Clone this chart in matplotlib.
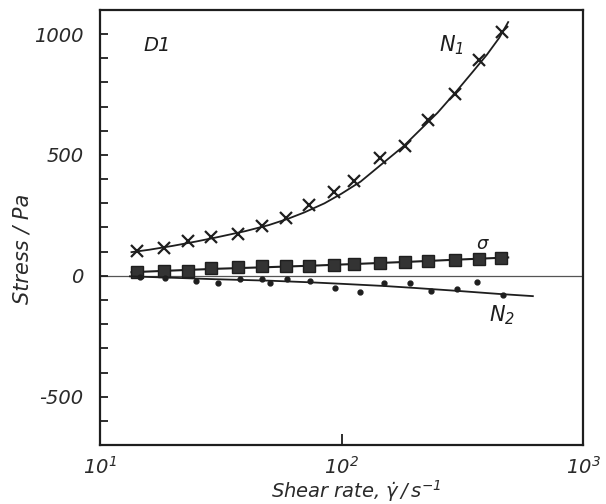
import matplotlib
matplotlib.use("Agg")
import matplotlib.pyplot as plt
from matplotlib.ticker import MultipleLocator, NullLocator

plt.rcParams['font.family'] = ['DejaVu Sans']
plt.rcParams['mathtext.fontset'] = 'custom'
plt.rcParams['mathtext.rm'] = 'DejaVu Sans:italic'
plt.rcParams['mathtext.it'] = 'DejaVu Sans:italic'

# N1 data points (crosses)
n1_rate = [14.2, 18.4, 23.1, 28.9, 37.1, 46.8, 58.8, 73.3, 93.2, 113, 145, 183, 229, 296, 372, 464]
n1_stress = [101, 115, 143, 161, 174, 208, 240, 292, 347, 393, 486, 539, 643, 754, 893, 1011]
# N1 fitted curve
n1_fit_rate = [13.5, 16, 20, 25, 30, 40, 50, 60, 70, 85, 100, 120, 150, 180, 200, 250, 300, 350, 400, 450, 490]
n1_fit_stress = [98, 108, 124, 142, 158, 185, 210, 236, 262, 300, 340, 390, 470, 535, 580, 675, 765, 845, 915, 985, 1050]

# shear stress sigma (squares)
sig_rate = [14.2, 18.4, 23.1, 28.9, 37.1, 46.8, 58.8, 73.3, 93.2, 113, 145, 183, 229, 296, 372, 456]
sig_stress = [14, 21, 21, 32, 35, 39, 39, 42, 44, 49, 53, 58, 60, 67, 71, 74]
sig_fit_rate = [13.5, 20, 30, 50, 80, 120, 200, 300, 490]
sig_fit_stress = [15, 22, 29, 36, 43, 50, 59, 67, 76]

# N2 data points (dots)
n2_rate = [14.6, 18.6, 25.0, 30.9, 38.0, 46.7, 50.6, 59.3, 74.1, 94.0, 119, 150, 192, 234, 300, 365, 468]
n2_stress = [-6, -10, -21, -31, -14, -14, -31, -14, -22, -51, -65, -28, -28, -61, -56, -24, -79]
n2_fit_rate = [13.3, 20, 30, 50, 75, 100, 150, 200, 300, 450, 620]
n2_fit_stress = [-2, -8, -14, -20, -27, -33, -42, -50, -62, -75, -84]

ink = '#1e1e1e'

fig = plt.figure(figsize=(6.06, 5.04), dpi=100)
ax = fig.add_axes([100 / 606, 1 - 445 / 504, 483 / 606, 435 / 504])

ax.axhline(0, color='#555555', lw=0.9, zorder=1)

ax.plot(n1_fit_rate, n1_fit_stress, color=ink, lw=1.3)
ax.plot(n1_rate, n1_stress, ls='none', marker='x', ms=8, mew=1.6, color=ink)

ax.plot(sig_fit_rate, sig_fit_stress, color=ink, lw=1.5)
ax.plot(sig_rate, sig_stress, ls='none', marker='s', ms=8, color='#333333', mec=ink)

ax.plot(n2_fit_rate, n2_fit_stress, color=ink, lw=1.3)
ax.plot(n2_rate, n2_stress, ls='none', marker='o', ms=3.5, color=ink)

ax.set_xscale('log')
ax.set_xlim(10, 1000)
ax.set_ylim(-700, 1100)

ax.set_xticks([10, 100, 1000], labels=[r'$10^{1}$', r'$10^{2}$', r'$10^{3}$'])
ax.xaxis.set_minor_locator(NullLocator())
ax.set_yticks([-500, 0, 500, 1000], labels=['-500', '0', '500', '1000'])
ax.yaxis.set_minor_locator(MultipleLocator(100))

ax.tick_params(axis='both', which='both', direction='in', color=ink, width=1.3,
               labelsize=14, labelcolor='#2a2a2a')
ax.tick_params(axis='y', which='both', length=6, pad=12)
ax.tick_params(axis='x', which='major', length=8, pad=8)
for lab in ax.get_xticklabels() + ax.get_yticklabels():
    lab.set_fontstyle('italic')

for s in ax.spines.values():
    s.set_linewidth(1.6)
    s.set_color(ink)

ax.set_xlabel(r"Shear rate, $\dot{\gamma}\,/\,s^{-1}$", fontsize=14, fontstyle='italic', color='#2a2a2a')
ax.xaxis.set_label_coords(0.53, -0.075)
ax.set_ylabel("Stress / Pa", fontsize=15, fontstyle='italic', color='#2a2a2a')
ax.yaxis.set_label_coords(-0.14, 0.45)

ax.text(15.1, 955, 'D1', fontsize=14, fontstyle='italic', ha='left', va='center', color=ink)
ax.text(284, 955, r'$N_1$', fontsize=15, ha='center', va='center', color=ink)
ax.text(385, 132, r'$\sigma$', fontsize=13, ha='center', va='center', color=ink)
ax.text(463, -162, r'$N_2$', fontsize=15, ha='center', va='center', color=ink)

plt.savefig('out.png', dpi=100)
